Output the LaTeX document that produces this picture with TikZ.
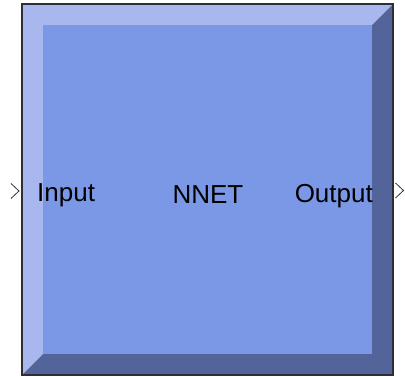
\documentclass[tikz,border=0pt]{standalone}
\usepackage{fontspec}
\setmainfont{Liberation Sans}
\usepackage{tikz}
\usetikzlibrary{positioning,calc}
\usepackage{xcolor}
\definecolor{nnetlight}{HTML}{A8B8EE}
\definecolor{nnetface}{HTML}{7B98E6}
\definecolor{nnetdark}{HTML}{53649B}
\definecolor{nnetedge}{HTML}{2E2E36}

\begin{document}
\begin{tikzpicture}[
    x=1pt,
    y=-1pt,
    border/.style={draw=nnetedge, line width=1.3pt},
    port/.style={draw=black!80, line width=0.8pt},
    every node/.style={
        inner sep=0pt,
        font=\fontsize{26}{31}\selectfont
    }
]
\useasboundingbox (0,0) rectangle (405,377);

% block corners
\coordinate (otl) at (22,4);
\coordinate (obr) at (393,375);
\coordinate (itl) at (43,25);
\coordinate (ibr) at (372,354);

% bevels and face
\fill[nnetlight] (otl) -- (obr|-otl) -- (ibr|-itl) -- (itl) -- (itl|-ibr) -- (otl|-obr) -- cycle;
\fill[nnetdark] (obr|-otl) -- (obr) -- (otl|-obr) -- (itl|-ibr) -- (ibr) -- (ibr|-itl) -- cycle;
\fill[nnetface] (itl) rectangle (ibr);
\draw[border] (otl) rectangle (obr);

% ports
\draw[port] (11,183.5) -- (19,191) -- (11,198.5);
\draw[port] (395.5,183) -- (403.5,190.5) -- (395.5,198);

% labels
\node[anchor=base west] (input) at (37,201.5) {Input};
\node[anchor=base] (nnet) at (208,204) {NNET};
\node[anchor=base east] (output) at (373,203) {Output};

\end{tikzpicture}
\end{document}
